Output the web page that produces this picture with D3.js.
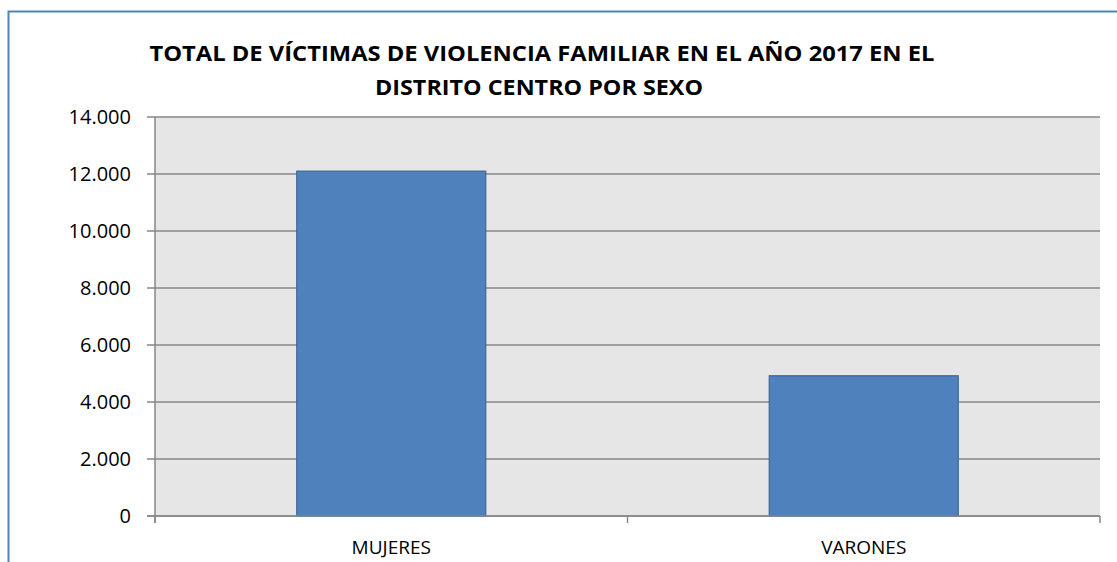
<!DOCTYPE html>
<html>
<head>
<meta charset="utf-8">
<script src="https://cdn.jsdelivr.net/npm/d3@7"></script>
<style>
  body { margin: 0; background: #fff; }
  svg { display: block; font-family: "Open Sans", "Liberation Sans", sans-serif; }
</style>
</head>
<body>
<div id="main"></div>
<script>
const ctx = {
    w: 1117,
    h: 562,
    left: 155,
    right: 1100,
    top: 117,
    bottom: 516,
};

const categories = ["MUJERES", "VARONES"];
const values = [12100, 4920];
const yTicks = [0, 2000, 4000, 6000, 8000, 10000, 12000, 14000];
const titleLines = ["TOTAL DE VÍCTIMAS DE VIOLENCIA FAMILIAR EN EL AÑO 2017 EN EL",
                    "DISTRITO CENTRO POR SEXO"];

const fmt = (v) => d3.format(",")(v).replace(/,/g, ".");

function createViz(){
    let svg = d3.select("#main").append("svg")
                .attr("width", ctx.w)
                .attr("height", ctx.h);

    // outer frame (right/bottom edges fall outside the picture)
    svg.append("rect")
       .attr("x", 8.5).attr("y", 11.5)
       .attr("width", 1200).attr("height", 700)
       .attr("fill", "none")
       .attr("stroke", "#4F81BD")
       .attr("stroke-width", 2);

    let x = d3.scaleBand()
              .domain(categories)
              .range([ctx.left, ctx.right])
              .paddingInner(0.6)
              .paddingOuter(0.3);
    let y = d3.scaleLinear()
              .domain([0, 14000])
              .range([ctx.bottom, ctx.top]);

    svg.append("rect")
       .attr("x", ctx.left).attr("y", ctx.top)
       .attr("width", ctx.right - ctx.left)
       .attr("height", ctx.bottom - ctx.top)
       .attr("fill", "#E6E6E6");

    // grid lines + ticks
    svg.append("g")
       .selectAll("line")
       .data(yTicks)
       .enter()
       .append("line")
       .attr("x1", ctx.left - 8)
       .attr("x2", ctx.right)
       .attr("y1", (d) => y(d))
       .attr("y2", (d) => y(d))
       .attr("stroke", "#878787")
       .attr("stroke-width", 1.5);

    svg.append("g")
       .selectAll("text")
       .data(yTicks)
       .enter()
       .append("text")
       .attr("x", 131)
       .attr("y", (d) => y(d) + 7)
       .attr("text-anchor", "end")
       .attr("font-size", 20)
       .attr("fill", "#000")
       .text((d) => fmt(d));

    svg.append("g")
       .selectAll("rect")
       .data(categories)
       .enter()
       .append("rect")
       .attr("x", (d) => x(d))
       .attr("y", (d, i) => y(values[i]))
       .attr("width", x.bandwidth())
       .attr("height", (d, i) => y(0) - y(values[i]))
       .attr("fill", "#4F81BD")
       .attr("stroke", "#3B6796")
       .attr("stroke-width", 1.2);

    // axes lines
    svg.append("line")
       .attr("x1", ctx.left).attr("x2", ctx.left)
       .attr("y1", ctx.top).attr("y2", ctx.bottom + 7)
       .attr("stroke", "#878787").attr("stroke-width", 1.5);
    svg.append("line")
       .attr("x1", ctx.left - 8).attr("x2", ctx.right)
       .attr("y1", ctx.bottom).attr("y2", ctx.bottom)
       .attr("stroke", "#878787").attr("stroke-width", 1.5);

    let catTicks = [ctx.left].concat(categories.map((d) => x(d) + x.bandwidth() / 2 + x.step() / 2));
    svg.append("g")
       .selectAll("line")
       .data(catTicks)
       .enter()
       .append("line")
       .attr("x1", (d) => d).attr("x2", (d) => d)
       .attr("y1", ctx.bottom).attr("y2", ctx.bottom + 7)
       .attr("stroke", "#878787").attr("stroke-width", 1.5);

    svg.append("g")
       .selectAll("text")
       .data(categories)
       .enter()
       .append("text")
       .attr("x", (d) => x(d) + x.bandwidth() / 2)
       .attr("y", 554)
       .attr("text-anchor", "middle")
       .attr("font-size", 19)
       .attr("fill", "#000")
       .text((d) => d);

    let widths = [785, 328];
    let centers = [542, 539];
    svg.append("g")
       .selectAll("text")
       .data(titleLines)
       .enter()
       .append("text")
       .attr("x", (d, i) => centers[i])
       .attr("y", (d, i) => 61 + i * 34)
       .attr("text-anchor", "middle")
       .attr("font-size", 21)
       .attr("font-weight", "bold")
       .attr("textLength", (d, i) => widths[i])
       .attr("lengthAdjust", "spacingAndGlyphs")
       .attr("fill", "#000")
       .text((d) => d);
}

createViz();
</script>
</body>
</html>
